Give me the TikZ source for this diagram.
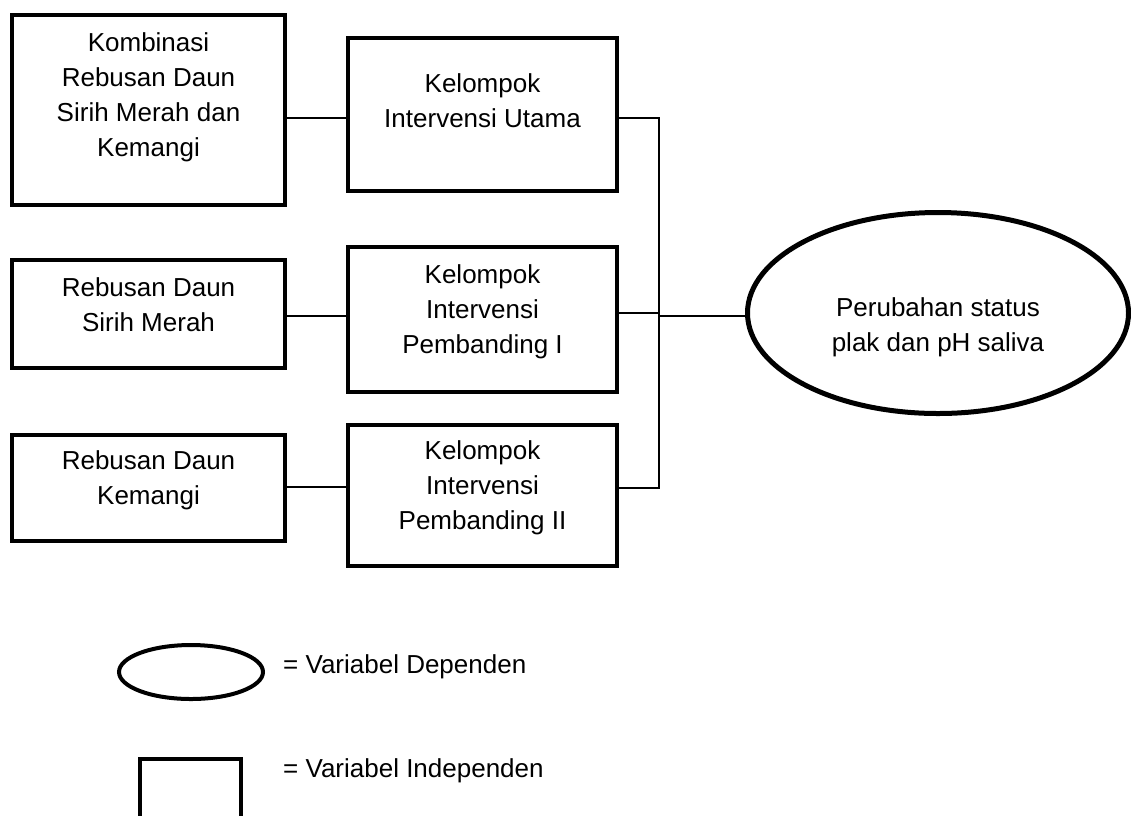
\documentclass[tikz,border=0pt]{standalone}
\usepackage{fontspec}
\setmainfont{Liberation Sans}
\usetikzlibrary{shapes.geometric}

\begin{document}
\begin{tikzpicture}[x=1pt, y=-1pt,
    box/.style={draw, rectangle, line width=4.5pt},
    txt/.style={align=center, inner sep=0pt, font=\fontsize{26pt}{35pt}\selectfont},
    oval/.style={draw, ellipse, line width=5pt},
    link/.style={line width=1.5pt}]
  \useasboundingbox (0,0) rectangle (1131,815);

  % left column
  \node[box, minimum width=273pt, minimum height=190pt,
        label={[txt, yshift=13pt]center:{Kombinasi\\Rebusan Daun\\Sirih Merah dan\\Kemangi}}]
        (kombinasi) at (148.5,110) {};
  \node[box, minimum width=273pt, minimum height=108pt,
        label={[txt, yshift=9pt]center:{Rebusan Daun\\Sirih Merah}}]
        (sirih) at (148.5,314) {};
  \node[box, minimum width=273pt, minimum height=106pt,
        label={[txt, yshift=8pt]center:{Rebusan Daun\\Kemangi}}]
        (kemangi) at (148.5,488) {};

  % middle column
  \node[box, minimum width=269pt, minimum height=153pt,
        label={[txt, yshift=14pt]center:{Kelompok\\Intervensi Utama}}]
        (utama) at (482.5,114.5) {};
  \node[box, minimum width=269pt, minimum height=145pt,
        label={[txt, yshift=8pt]center:{Kelompok\\Intervensi\\Pembanding I}}]
        (pembanding1) at (482.5,319.5) {};
  \node[box, minimum width=269pt, minimum height=141pt,
        label={[txt, yshift=8pt]center:{Kelompok\\Intervensi\\Pembanding II}}]
        (pembanding2) at (482.5,495.5) {};

  % dependent variable
  \node[oval, minimum width=381pt, minimum height=201pt,
        label={[txt, yshift=-14pt]center:{Perubahan status\\plak dan pH saliva}}]
        (dependen) at (938,313) {};

  % connectors
  \coordinate (jtop) at (659,118);
  \coordinate (jbot) at (659,488);
  \coordinate (hub) at (659,316);
  \draw[link] (kombinasi.east |- 0,118) -- (utama.west |- 0,118);
  \draw[link] (sirih.east |- 0,316) -- (pembanding1.west |- 0,316);
  \draw[link] (kemangi.east |- 0,487) -- (pembanding2.west |- 0,487);
  \draw[link] (utama.east |- jtop) -- (jtop) -- (jbot) -- (pembanding2.east |- jbot);
  \draw[link] (pembanding1.east |- 0,313) -- (659,313);
  \draw[link] (hub) -- (dependen.west |- hub);

  % legend
  \node[oval, line width=4pt, minimum width=144pt, minimum height=54pt] (legdep) at (191,672) {};
  \node[txt, anchor=west] (legdeptext) at (283,667) {= Variabel Dependen};
  \node[box, line width=4pt, minimum width=101pt, minimum height=120pt, anchor=north] (legind) at (190.5,757) {};
  \node[txt, anchor=west] (legindtext) at (283,771) {= Variabel Independen};
\end{tikzpicture}
\end{document}
